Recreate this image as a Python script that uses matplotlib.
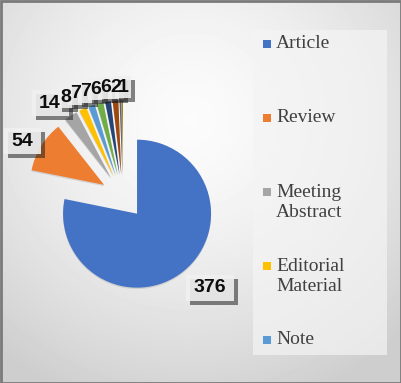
import numpy as np
import matplotlib
matplotlib.use('Agg')
import matplotlib.pyplot as plt
import matplotlib.patheffects as pe
from matplotlib.patches import Rectangle

# document types and counts
types = ['Article', 'Review', 'Meeting\nAbstract', 'Editorial\nMaterial', 'Note',
         'Proceedings Paper', 'Letter', 'Book Chapter', 'Correction', 'Data Paper']
counts = [376, 54, 14, 8, 7, 7, 6, 6, 2, 1]
colors = ['#4472C4', '#ED7D31', '#A5A5A5', '#FFC000', '#5B9BD5',
          '#70AD47', '#264478', '#9E480E', '#636363', '#997300']
n_legend = 5

# label positions in picture pixels (x, y from top)
label_pos = [(210, 288), (22, 141), (50, 103), (66, 97), (76, 94),
             (86, 92), (96, 89), (106, 88), (116, 88), (123, 87)]

W, H = 401, 383
R = 74
fig = plt.figure(figsize=(W / 100, H / 100), dpi=100)
ax = fig.add_axes([0, 0, 1, 1])

# background gradient like the office chart area
yy, xx = np.mgrid[0:H, 0:W]
d = np.sqrt(((xx - 190) / 300) ** 2 + ((yy - 120) / 300) ** 2)
bg = 0.985 - 0.18 * np.clip(d, 0, 1) ** 1.5
ax.imshow(bg, cmap='gray', vmin=0, vmax=1, extent=(0, W, 0, H), origin='upper',
          zorder=0, aspect='auto')
ax.add_patch(Rectangle((0.5, 0.5), W - 1, H - 1, fill=False, ec='#7a7a7a', lw=2, zorder=5))

# legend panel
ax.add_patch(Rectangle((253, H - 355), 134, 325, fc='#f4f4f4', ec='none', alpha=0.7, zorder=1))

explode = [0.3 * R] * len(counts)
wedges, _ = ax.pie(counts, colors=colors, startangle=90, counterclock=False,
                   explode=explode, radius=R, center=(123, H - 196.5),
                   wedgeprops=dict(edgecolor='none'), frame=True)
for w in wedges:
    w.set_zorder(3)
    w.set_path_effects([pe.SimplePatchShadow(offset=(0, -1), shadow_rgbFace='#b8b8b8', alpha=0.5),
                        pe.Normal()])
ax.set_xlim(0, W)
ax.set_ylim(0, H)
ax.set_aspect('auto')
ax.axis('off')

# label boxes first, then the numbers on top of all boxes
for i, c in enumerate(counts):
    x, y = label_pos[i]
    padx = 8 if i < 3 else 3
    bw = 10.5 * len(str(c)) + 2 * padx
    bh = 26 if i < 3 else 22
    box = Rectangle((x - bw / 2, H - y - bh / 2), bw, bh, fc='#f0f0f0', ec='none',
                    alpha=0.9, zorder=6 + i)
    box.set_path_effects([
        pe.SimplePatchShadow(offset=(3, -3), shadow_rgbFace='#202020', alpha=0.55), pe.Normal()])
    ax.add_patch(box)
for i, c in enumerate(counts):
    x, y = label_pos[i]
    ax.text(x, H - y, str(c), ha='center', va='center', fontsize=14,
            fontweight='bold', family='Liberation Sans', color='#0d0d0d', zorder=20 + i)

# legend drawn as squares + text
for i in range(n_legend):
    y = 44 + 74 * i
    ax.add_patch(Rectangle((263, H - y - 4), 8, 8, fc=colors[i], ec='none', zorder=4))
    if '\n' in types[i]:
        ax.text(276, H - y + 8, types[i], ha='left', va='top', fontsize=14,
                family='Liberation Serif', color='#404040', zorder=4, linespacing=1.2)
    else:
        ax.text(276, H - y + 1, types[i], ha='left', va='center', fontsize=14,
                family='Liberation Serif', color='#404040', zorder=4)

fig.savefig('out.png', dpi=100)
